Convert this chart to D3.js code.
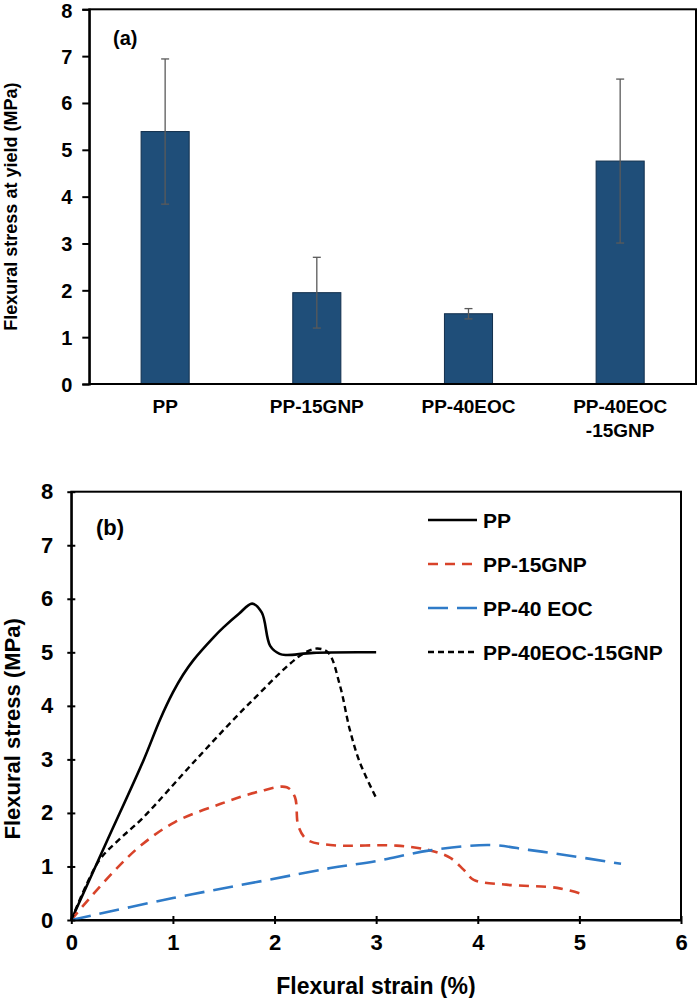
<!DOCTYPE html>
<html><head><meta charset="utf-8">
<script src="https://cdn.jsdelivr.net/npm/d3@7"></script>
<style>
html,body{margin:0;padding:0;background:#fff;}
svg text{font-family:"Liberation Sans",Arial,sans-serif;font-weight:bold;fill:#000;}
</style></head>
<body>
<svg id="chart" width="698" height="998"></svg>
<script>
// ---------- Data (a) ----------
const barCategories = ["PP", "PP-15GNP", "PP-40EOC", "PP-40EOC\n-15GNP"];
const barValues = [5.39, 1.95, 1.50, 4.76];
const barErrors = [1.55, 0.755, 0.11, 1.75];
const barYTicks = [0, 1, 2, 3, 4, 5, 6, 7, 8];

// ---------- Data (b) ----------
const seriesNames = ["PP", "PP-15GNP", "PP-40 EOC", "PP-40EOC-15GNP"];
const ppStrain = [0, 0.35, 0.71, 0.875, 1.0, 1.1, 1.2, 1.4, 1.5, 1.65, 1.78, 1.875, 1.957, 2.05, 2.12, 2.38, 3.0];
const ppStress = [0, 1.47, 2.98, 3.75, 4.25, 4.58, 4.85, 5.28, 5.47, 5.72, 5.91, 5.74, 5.12, 4.97, 4.95, 4.99, 5.0];
const gnpStrain = [0, 0.105, 0.43, 0.69, 1.02, 1.47, 1.83, 2.12, 2.2, 2.235, 2.32, 2.55, 3.2, 3.53, 3.73, 3.86, 3.96, 4.28, 4.78, 5.0];
const gnpStress = [0, 0.24, 0.93, 1.40, 1.83, 2.17, 2.39, 2.48, 2.3, 1.75, 1.5, 1.40, 1.39, 1.30, 1.16, 0.94, 0.75, 0.66, 0.6, 0.5];
const eocStrain = [0, 1.0, 1.91, 2.55, 3.0, 3.53, 4.12, 4.5, 4.84, 5.41];
const eocStress = [0, 0.41, 0.74, 0.97, 1.1, 1.30, 1.40, 1.31, 1.22, 1.05];
const hybStrain = [0, 0.27, 0.47, 0.70, 1.22, 1.76, 2.27, 2.42, 2.53, 2.645, 2.74, 2.84, 3.0];
const hybStress = [0, 1.1, 1.5, 1.9, 2.98, 4.06, 4.96, 5.07, 4.99, 4.37, 3.56, 2.94, 2.28];
const lineXTicks = [0, 1, 2, 3, 4, 5, 6];
const lineYTicks = [0, 1, 2, 3, 4, 5, 6, 7, 8];

const svg = d3.select("#chart");

// ================= Chart (a) =================
const A = {left: 89.3, right: 696, top: 9.3, bottom: 384};
const xA = d3.scaleBand().domain(barCategories).range([A.left, A.right]).padding(0);
const yA = d3.scaleLinear().domain([0, 8]).range([A.bottom, A.top]);
const barW = xA.bandwidth() * 0.317;
const gA = svg.append("g");

gA.selectAll("rect.bar").data(barCategories).join("rect")
  .attr("class", "bar")
  .attr("x", d => xA(d) + xA.bandwidth() / 2 - barW / 2)
  .attr("width", barW)
  .attr("y", (d, i) => yA(barValues[i]))
  .attr("height", (d, i) => yA(0) - yA(barValues[i]))
  .attr("fill", "#1f4e79")
  .attr("stroke", "#122f4d")
  .attr("stroke-width", 1);

// error bars
const eb = gA.selectAll("g.err").data(barCategories).join("g").attr("class", "err")
  .attr("stroke", "#5a5a5a").attr("stroke-width", 1.3);
eb.append("line")
  .attr("x1", d => xA(d) + xA.bandwidth() / 2).attr("x2", d => xA(d) + xA.bandwidth() / 2)
  .attr("y1", (d, i) => yA(barValues[i] + barErrors[i]))
  .attr("y2", (d, i) => yA(barValues[i] - barErrors[i]));
eb.append("line")
  .attr("x1", d => xA(d) + xA.bandwidth() / 2 - 4).attr("x2", d => xA(d) + xA.bandwidth() / 2 + 4)
  .attr("y1", (d, i) => yA(barValues[i] + barErrors[i])).attr("y2", (d, i) => yA(barValues[i] + barErrors[i]));
eb.append("line")
  .attr("x1", d => xA(d) + xA.bandwidth() / 2 - 4).attr("x2", d => xA(d) + xA.bandwidth() / 2 + 4)
  .attr("y1", (d, i) => yA(barValues[i] - barErrors[i])).attr("y2", (d, i) => yA(barValues[i] - barErrors[i]));

// frame
gA.append("rect").attr("x", A.left).attr("y", A.top)
  .attr("width", A.right - A.left).attr("height", A.bottom - A.top)
  .attr("fill", "none").attr("stroke", "#000").attr("stroke-width", 2);

// y axis (a)
const axA = gA.append("g").attr("transform", `translate(${A.left},0)`)
  .call(d3.axisLeft(yA).tickValues(barYTicks).tickSize(7).tickPadding(10).tickFormat(d3.format("d")));
axA.select(".domain").attr("stroke", "#000").attr("stroke-width", 2);
axA.selectAll(".tick line").attr("stroke", "#000").attr("stroke-width", 2);
axA.selectAll(".tick text").attr("font-size", 20).attr("font-family", '"Liberation Sans",Arial,sans-serif').attr("font-weight", "bold").attr("fill", "#000")
  .attr("dy", d => d === 8 ? "0.42em" : "0.35em");

// x labels (a)
const xlab = gA.selectAll("text.xlab").data(barCategories).join("text")
  .attr("class", "xlab")
  .attr("text-anchor", "middle").attr("font-size", 19)
  .attr("x", d => xA(d) + xA.bandwidth() / 2)
  .attr("y", 413);
xlab.each(function(d) {
  const parts = d.split("\n");
  const t = d3.select(this);
  parts.forEach((p, j) => t.append("tspan").attr("x", xA(d) + xA.bandwidth() / 2).attr("dy", j === 0 ? 0 : 24).text(p));
});

gA.append("text").attr("transform", `translate(17,${(A.top + A.bottom) / 2 + 10}) rotate(-90)`)
  .attr("text-anchor", "middle").attr("font-size", 18).text("Flexural stress at yield (MPa)");
gA.append("text").attr("x", 113).attr("y", 45).attr("font-size", 20).text("(a)");

// ================= Chart (b) =================
const B = {left: 71.3, right: 681, top: 491.7, bottom: 920};
const xB = d3.scaleLinear().domain([0, 6]).range([B.left, B.right]);
const yB = d3.scaleLinear().domain([0, 8]).range([B.bottom, B.top]);
const gB = svg.append("g");

// frame
gB.append("rect").attr("x", B.left).attr("y", B.top)
  .attr("width", B.right - B.left).attr("height", B.bottom - B.top)
  .attr("fill", "none").attr("stroke", "#000").attr("stroke-width", 2);

const series = [
  {name: seriesNames[0], xs: ppStrain, ys: ppStress, color: "#000000", dash: null, w: 2.6},
  {name: seriesNames[1], xs: gnpStrain, ys: gnpStress, color: "#d8432a", dash: "10,7", w: 2.6},
  {name: seriesNames[2], xs: eocStrain, ys: eocStress, color: "#2f7bc8", dash: "20,9", w: 2.6},
  {name: seriesNames[3], xs: hybStrain, ys: hybStress, color: "#000000", dash: "6,4", w: 2.4}
];
const line = d3.line().x(d => xB(d[0])).y(d => yB(d[1])).curve(d3.curveCatmullRom.alpha(0.5));

gB.selectAll("path.curve").data(series).join("path")
  .attr("class", "curve")
  .attr("d", s => line(s.xs.map((x, i) => [x, s.ys[i]])))
  .attr("fill", "none")
  .attr("stroke", s => s.color)
  .attr("stroke-width", s => s.w)
  .attr("stroke-dasharray", s => s.dash);

// axes (b)
const axBy = gB.append("g").attr("transform", `translate(${B.left},0)`)
  .call(d3.axisLeft(yB).tickValues(lineYTicks).tickSizeInner(4).tickSizeOuter(0).tickPadding(14).tickFormat(d3.format("d")));
axBy.selectAll(".tick line").attr("x1", 4).attr("x2", -4);
const axBx = gB.append("g").attr("transform", `translate(0,${B.bottom})`)
  .call(d3.axisBottom(xB).tickValues(lineXTicks).tickSizeInner(4).tickSizeOuter(0).tickPadding(10).tickFormat(d3.format("d")));
axBx.selectAll(".tick line").attr("y1", -4).attr("y2", 4);
[axBy, axBx].forEach(ax => {
  ax.select(".domain").attr("stroke", "#000").attr("stroke-width", 2);
  ax.selectAll(".tick line").attr("stroke", "#000").attr("stroke-width", 2);
  ax.selectAll(".tick text").attr("font-size", 22).attr("font-family", '"Liberation Sans",Arial,sans-serif').attr("font-weight", "bold").attr("fill", "#000");
});

gB.append("text").attr("x", 376).attr("y", 994).attr("text-anchor", "middle").attr("font-size", 23).text("Flexural strain (%)");
gB.append("text").attr("transform", `translate(20,${(B.top + B.bottom) / 2 + 23}) rotate(-90)`)
  .attr("text-anchor", "middle").attr("font-size", 22).text("Flexural stress (MPa)");
gB.append("text").attr("x", 96).attr("y", 535).attr("font-size", 22).text("(b)");

// legend
const legY = [520, 564, 608, 652];
const leg = gB.selectAll("g.leg").data(series).join("g").attr("class", "leg")
  .attr("transform", (s, i) => `translate(428,${legY[i]})`);
leg.append("line").attr("x1", 0).attr("x2", 49).attr("y1", 0).attr("y2", 0)
  .attr("stroke", s => s.color).attr("stroke-width", s => s.w)
  .attr("stroke-dasharray", s => s.dash);
leg.append("text").attr("x", 55).attr("y", 7.5).attr("font-size", 21).text(s => s.name);
</script>
</body></html>
